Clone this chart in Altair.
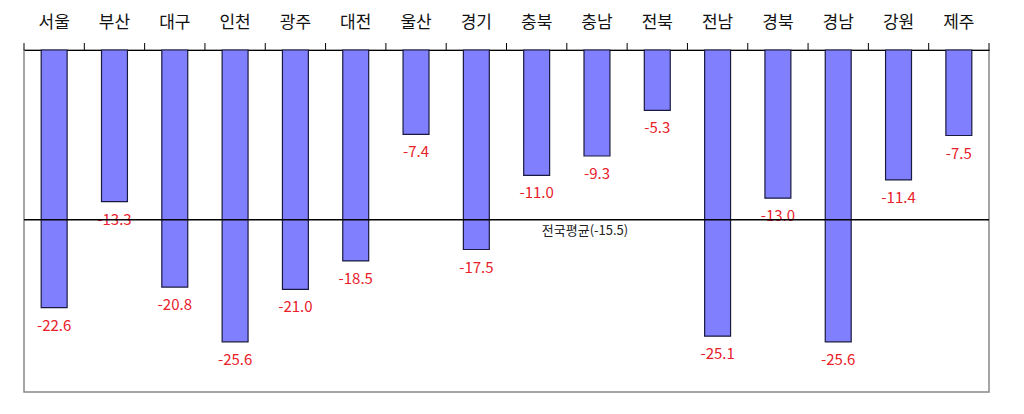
import altair as alt
import pandas as pd

regions = ["서울", "부산", "대구", "인천", "광주", "대전", "울산", "경기",
           "충북", "충남", "전북", "전남", "경북", "경남", "강원", "제주"]
values = [-22.6, -13.3, -20.8, -25.6, -21.0, -18.5, -7.4, -17.5,
          -11.0, -9.3, -5.3, -25.1, -13.0, -25.6, -11.4, -7.5]
avg_line = -14.9
avg_label = "전국평균(-15.5)"

df = pd.DataFrame({"region": regions, "value": values})
df["label"] = [f"{v:.1f}" for v in values]
avg_df = pd.DataFrame({"avg": [avg_line], "label": [avg_label]})
last_df = df.tail(1)

FONT = "Noto Sans CJK KR"

xscale = alt.Scale(domain=regions, paddingInner=0, paddingOuter=0)

x = alt.X("region:N", sort=regions, scale=xscale,
          axis=alt.Axis(orient="top", title=None, labelAngle=0, labelFontSize=17,
                        labelFont=FONT, labelFontWeight="normal", labelColor="#111111",
                        ticks=False, domainColor="#000000",
                        domainWidth=1, labelPadding=19))
y = alt.Y("value:Q", scale=alt.Scale(domain=[-30, 0], nice=False),
          axis=None)

bars = alt.Chart(df).mark_bar(color="#8080ff", stroke="#1a1a40", strokeWidth=1.2,
                              width=alt.RelativeBandSize(0.43)).encode(
    x=x, y=y, y2=alt.datum(0))

ticks = alt.Chart(df).mark_rule(color="#000000", strokeWidth=1).encode(
    x=alt.X("region:N", sort=regions, scale=xscale, bandPosition=0),
    y=alt.value(-7), y2=alt.value(0))

tick_end = alt.Chart(last_df).mark_rule(color="#000000", strokeWidth=1).encode(
    x=alt.X("region:N", sort=regions, scale=xscale, bandPosition=1),
    y=alt.value(-7), y2=alt.value(0))

labels = alt.Chart(df).mark_text(color="#e8202a", fontSize=15, font=FONT,
                                 fontWeight="normal", baseline="top", dy=11).encode(
    x=alt.X("region:N", sort=regions, scale=xscale), y="value:Q", text="label:N")

rule = alt.Chart(avg_df).mark_rule(color="#000000", strokeWidth=1.5).encode(
    y="avg:Q", x=alt.value(0), x2=alt.value(965))

avg_text = alt.Chart(avg_df).mark_text(fontSize=13, font=FONT, color="#222222",
                                       baseline="top", dy=5).encode(
    y="avg:Q", x=alt.value(561), text="label:N")

chart = alt.layer(bars, ticks, tick_end, labels, rule, avg_text).properties(
    width=965, height=342,
    autosize=alt.AutoSizeParams(type="none"),
    padding={"left": 16, "top": 42, "right": 20, "bottom": 10},
).configure_view(stroke="#888888", strokeWidth=1.5)

chart.save("out.html", embed_options={"renderer": "svg", "actions": False})
